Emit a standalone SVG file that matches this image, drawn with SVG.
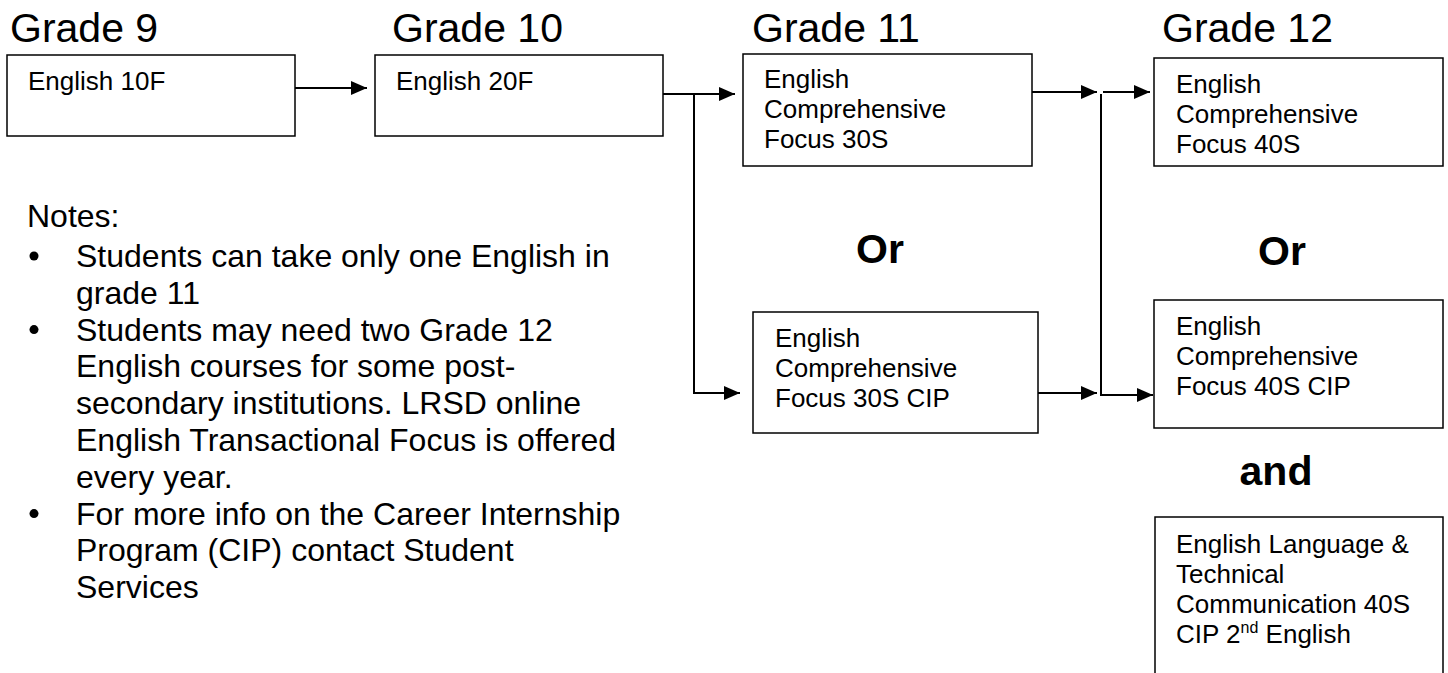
<svg xmlns="http://www.w3.org/2000/svg" width="1448" height="673" viewBox="0 0 1448 673">
<style>
.hdr{font-family:"Liberation Sans",Arial,sans-serif;font-size:41px;fill:#000}
.box{fill:#fff;stroke:#000;stroke-width:1.5}
.bt{font-family:"Liberation Sans",Arial,sans-serif;font-size:26px;fill:#000}
.bold{font-family:"Liberation Sans",Arial,sans-serif;font-size:41px;font-weight:bold;fill:#000}
.note{font-family:"Liberation Sans",Arial,sans-serif;font-size:32px;fill:#000}
.con{fill:none;stroke:#000;stroke-width:2}
</style>
<defs>
<marker id="arr" markerUnits="userSpaceOnUse" markerWidth="16" markerHeight="14" refX="16" refY="7" orient="auto">
<path d="M0,0 L16,7 L0,14 z" fill="#000"/>
</marker>
</defs>
<rect width="1448" height="673" fill="#fff"/>
<g id="headers">
<text class="hdr" x="10" y="42">Grade 9</text>
<text class="hdr" x="392" y="42">Grade 10</text>
<text class="hdr" x="752" y="42">Grade 11</text>
<text class="hdr" x="1162" y="42">Grade 12</text>
</g>
<g id="connectors">
<line class="con" x1="295" y1="88" x2="367" y2="88" marker-end="url(#arr)"/>
<line class="con" x1="663" y1="94" x2="735" y2="94" marker-end="url(#arr)"/>
<line class="con" x1="694" y1="94" x2="694" y2="393"/>
<line class="con" x1="693" y1="393" x2="740" y2="393" marker-end="url(#arr)"/>
<line class="con" x1="1032" y1="92" x2="1097" y2="92" marker-end="url(#arr)"/>
<line class="con" x1="1038" y1="393" x2="1097" y2="393" marker-end="url(#arr)"/>
<line class="con" x1="1101" y1="94" x2="1101" y2="396"/>
<line class="con" x1="1103" y1="92" x2="1150" y2="92" marker-end="url(#arr)"/>
<line class="con" x1="1101" y1="395" x2="1153" y2="395" marker-end="url(#arr)"/>
</g>
<g id="n-eng10f">
<rect class="box" x="7" y="55" width="288" height="81"/>
<text class="bt" x="28" y="90">English 10F</text>
</g>
<g id="n-eng20f">
<rect class="box" x="375" y="55" width="288" height="81"/>
<text class="bt" x="396" y="90">English 20F</text>
</g>
<g id="n-ecf30s">
<rect class="box" x="743" y="54" width="289" height="112"/>
<text class="bt" x="764" y="88">English</text>
<text class="bt" x="764" y="118">Comprehensive</text>
<text class="bt" x="764" y="148">Focus 30S</text>
</g>
<g id="n-ecf30scip">
<rect class="box" x="753" y="312" width="285" height="121"/>
<text class="bt" x="775" y="347">English</text>
<text class="bt" x="775" y="377">Comprehensive</text>
<text class="bt" x="775" y="407">Focus 30S CIP</text>
</g>
<g id="n-ecf40s">
<rect class="box" x="1154" y="58" width="289" height="108"/>
<text class="bt" x="1176" y="93">English</text>
<text class="bt" x="1176" y="123">Comprehensive</text>
<text class="bt" x="1176" y="153">Focus 40S</text>
</g>
<g id="n-ecf40scip">
<rect class="box" x="1154" y="300" width="289" height="128"/>
<text class="bt" x="1176" y="335">English</text>
<text class="bt" x="1176" y="365">Comprehensive</text>
<text class="bt" x="1176" y="395">Focus 40S CIP</text>
</g>
<g id="n-eltc40s">
<path class="box" d="M1155,680 L1155,517 L1443,517 L1443,680" fill="#fff"/>
<text class="bt" x="1176" y="553">English Language &amp;</text>
<text class="bt" x="1176" y="583">Technical</text>
<text class="bt" x="1176" y="613">Communication 40S</text>
<text class="bt" x="1176" y="643">CIP 2<tspan font-size="16" dy="-10">nd</tspan><tspan dy="10"> English</tspan></text>
</g>
<g id="labels">
<text class="bold" x="880" y="263" text-anchor="middle">Or</text>
<text class="bold" x="1282" y="265" text-anchor="middle">Or</text>
<text class="bold" x="1276" y="485" text-anchor="middle">and</text>
</g>
<g id="notes">
<text class="note" x="27" y="227">Notes:</text>
<circle cx="34" cy="256" r="4.5" fill="#000"/>
<circle cx="34" cy="329.6" r="4.5" fill="#000"/>
<circle cx="34" cy="513.6" r="4.5" fill="#000"/>
<text class="note" x="76" y="267">Students can take only one English in</text>
<text class="note" x="76" y="303.8">grade 11</text>
<text class="note" x="76" y="340.6">Students may need two Grade 12</text>
<text class="note" x="76" y="377.4">English courses for some post-</text>
<text class="note" x="76" y="414.2">secondary institutions. LRSD online</text>
<text class="note" x="76" y="451">English Transactional Focus is offered</text>
<text class="note" x="76" y="487.8">every year.</text>
<text class="note" x="76" y="524.6">For more info on the Career Internship</text>
<text class="note" x="76" y="561.4">Program (CIP) contact Student</text>
<text class="note" x="76" y="598.2">Services</text>
</g>
</svg>
